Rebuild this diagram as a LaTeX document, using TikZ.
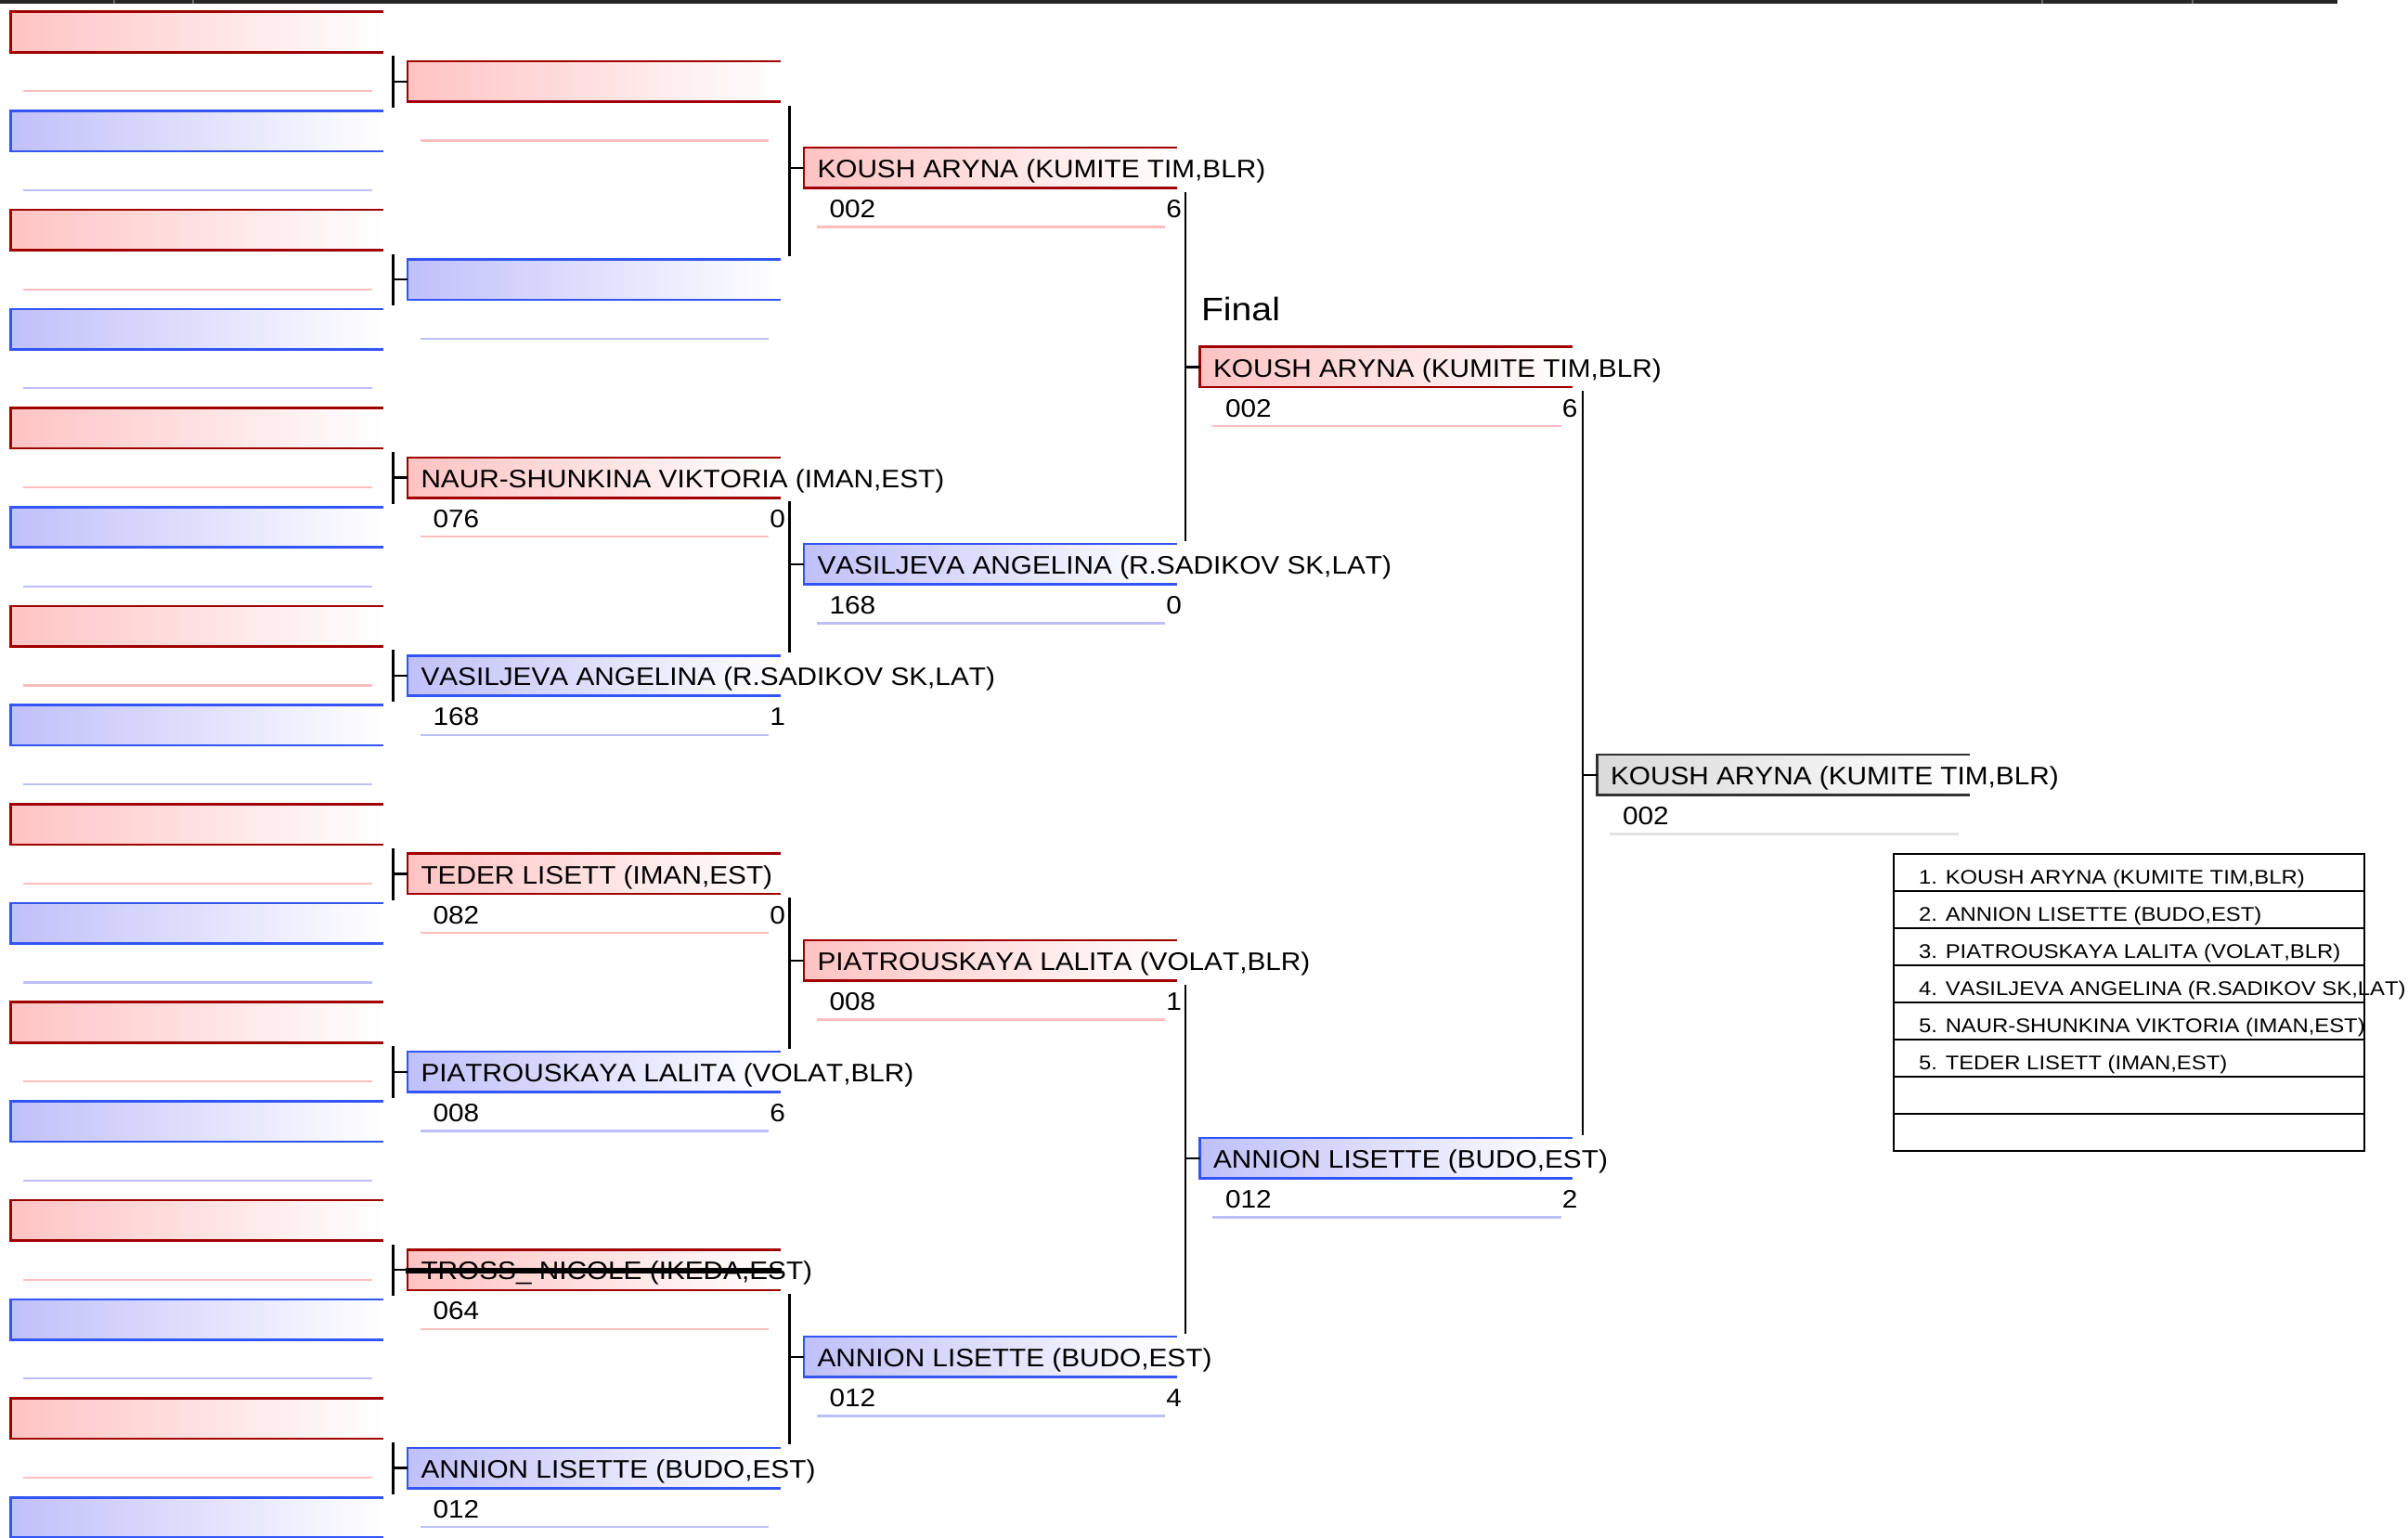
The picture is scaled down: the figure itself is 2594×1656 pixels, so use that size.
\documentclass[tikz,border=0pt]{standalone}
\usepackage{fontspec}
\setmainfont{Liberation Sans}[FakeStretch=1.09, Kerning=Off]
\newfontfamily\tabfont{Liberation Sans}[FakeStretch=1.12, Kerning=Off]
\usetikzlibrary{calc}
\definecolor{redE}{RGB}{160,0,0}
\definecolor{redF}{RGB}{255,195,195}
\definecolor{redU}{RGB}{255,190,190}
\definecolor{bluE}{RGB}{51,85,245}
\definecolor{bluF}{RGB}{192,192,250}
\definecolor{bluU}{RGB}{190,190,250}
\definecolor{grE}{RGB}{50,50,50}
\definecolor{grF}{RGB}{218,218,218}
\definecolor{grU}{RGB}{225,225,225}
\tikzset{
  boxbase/.style={inner sep=0pt, outer sep=0pt, minimum width=200.75pt, minimum height=21.75pt, anchor=north west},
  boxr/.style={boxbase, left color=redF, right color=white},
  boxb/.style={boxbase, left color=bluF, right color=white},
  boxg/.style={boxbase, left color=grF, right color=white},
  edger/.style={draw=redE, line width=1.3pt},
  edgeb/.style={draw=bluE, line width=1.3pt},
  edgeg/.style={draw=grE, line width=1.3pt},
  ulr/.style={draw=redU, line width=1.1pt},
  ulb/.style={draw=bluU, line width=1.1pt},
  ulg/.style={draw=grU, line width=1.1pt},
  nametext/.style={font=\fontsize{13.65}{16}\selectfont, inner sep=0pt, outer sep=0pt, text=black},
  tabtext/.style={font=\tabfont\fontsize{10.65}{13}\selectfont, inner sep=0pt, outer sep=0pt, text=black},
  finaltext/.style={font=\tabfont\fontsize{17.5}{20}\selectfont, inner sep=0pt, outer sep=0pt, text=black},
  conn/.style={draw=black, line width=1.2pt},
  tabline/.style={draw=black, line width=1.35pt},
  strike/.style={draw=black, line width=3pt}
}
% #1 name, #2 x, #3 y, #4 colour key, #5 competitor, #6 number, #7 score
\newcommand{\bslot}[7]{%
  \node[box#4] (#1) at (#2,#3) {};
  \draw[edge#4] (#1.north east) -- (#1.north west) -- (#1.south west) -- (#1.south east);
  \draw[ul#4] ($(#1.south west)+(13.5,42)$) -- ($(#1.south east)+(-12.5,42)$);
  \node[nametext, anchor=base west] (#1n) at ($(#1.north west)+(14.5,32.4)$) {#5};
  \node[nametext, anchor=base west] (#1c) at ($(#1.north west)+(27.5,75.5)$) {#6};
  \node[nametext, anchor=base east] (#1s) at ($(#1.north east)+(5.5,75.5)$) {#7};
}
% #1 upper child, #2 lower child, #3 parent
\newcommand{\brk}[3]{%
  \coordinate (#3t) at ($(#3.west)+(-15.5,0)$);
  \coordinate (#3u) at (#3t |- #1.south);
  \coordinate (#3d) at (#3t |- #2.north);
  \draw[conn] ($(#3u)+(0,4)$) -- ($(#3d)+(0,-3.5)$);
  \draw[conn] (#3t) -- (#3.west);
}
\begin{document}
\begin{tikzpicture}[x=0.5pt, y=-0.5pt]
\useasboundingbox (0,0) rectangle (2594,1656);
% top band
\draw[line width=1.8pt, draw=black!85] (0,1.8) -- (2518,1.8);
\foreach \tx in {123,208,2200,2362} { \draw[line width=0.8pt, draw=black!60] (\tx,0) -- (\tx,3.6); }
% column 1
\foreach \i in {0,...,7} {
  \bslot{ar\i}{11.5}{12.7+213.4*\i}{r}{}{}{}
  \bslot{ab\i}{11.5}{119.4+213.4*\i}{b}{}{}{}
}
% column 2
\bslot{c0}{439}{66}{r}{}{}{}
\bslot{c1}{439}{279.4}{b}{}{}{}
\bslot{c2}{439}{492.8}{r}{NAUR-SHUNKINA VIKTORIA (IMAN,EST)}{076}{0}
\bslot{c3}{439}{706.2}{b}{VASILJEVA ANGELINA (R.SADIKOV SK,LAT)}{168}{1}
\bslot{c4}{439}{919.6}{r}{TEDER LISETT (IMAN,EST)}{082}{0}
\bslot{c5}{439}{1133}{b}{PIATROUSKAYA LALITA (VOLAT,BLR)}{008}{6}
\bslot{c6}{439}{1346.4}{r}{TROSS\_ NICOLE (IKEDA,EST)}{064}{}
\bslot{c7}{439}{1559.8}{b}{ANNION LISETTE (BUDO,EST)}{012}{}
\foreach \j in {0,...,7} { \brk{ar\j}{ab\j}{c\j} }
\draw[strike] ($(c6.west)+(-2,0.5)$) -- ($(c6.east)+(1.5,0.5)$);
% column 3
\bslot{d0}{866}{159}{r}{KOUSH ARYNA (KUMITE TIM,BLR)}{002}{6}
\bslot{d1}{866}{586}{b}{VASILJEVA ANGELINA (R.SADIKOV SK,LAT)}{168}{0}
\bslot{d2}{866}{1013}{r}{PIATROUSKAYA LALITA (VOLAT,BLR)}{008}{1}
\bslot{d3}{866}{1440}{b}{ANNION LISETTE (BUDO,EST)}{012}{4}
\brk{c0}{c1}{d0}
\brk{c2}{c3}{d1}
\brk{c4}{c5}{d2}
\brk{c6}{c7}{d3}
% column 4
\bslot{e0}{1292.5}{373.6}{r}{KOUSH ARYNA (KUMITE TIM,BLR)}{002}{6}
\bslot{e1}{1292.5}{1226}{b}{ANNION LISETTE (BUDO,EST)}{012}{2}
\brk{d0}{d1}{e0}
\brk{d2}{d3}{e1}
\node[finaltext, anchor=base west] (fin) at ($(e0.north west)+(1.5,-28)$) {Final};
% winner
\bslot{f0}{1720.5}{813}{g}{KOUSH ARYNA (KUMITE TIM,BLR)}{002}{}
\brk{e0}{e1}{f0}
% results table
\node[tabline, inner sep=0pt, outer sep=0pt, minimum width=253.5pt, minimum height=160pt, anchor=north west] (tab) at (2040,920) {};
\foreach \k in {1,...,7} { \draw[tabline] ($(tab.north west)+(0,40*\k)$) -- ($(tab.north east)+(0,40*\k)$); }
\node[tabtext, anchor=base west] (r1) at ($(tab.north west)+(27,32.3)$) {1. KOUSH ARYNA (KUMITE TIM,BLR)};
\node[tabtext, anchor=base west] (r2) at ($(tab.north west)+(27,72.3)$) {2. ANNION LISETTE (BUDO,EST)};
\node[tabtext, anchor=base west] (r3) at ($(tab.north west)+(27,112.3)$) {3. PIATROUSKAYA LALITA (VOLAT,BLR)};
\node[tabtext, anchor=base west] (r4) at ($(tab.north west)+(27,152.3)$) {4. VASILJEVA ANGELINA (R.SADIKOV SK,LAT)};
\node[tabtext, anchor=base west] (r5) at ($(tab.north west)+(27,192.3)$) {5. NAUR-SHUNKINA VIKTORIA (IMAN,EST)};
\node[tabtext, anchor=base west] (r6) at ($(tab.north west)+(27,232.3)$) {5. TEDER LISETT (IMAN,EST)};
\end{tikzpicture}
\end{document}
